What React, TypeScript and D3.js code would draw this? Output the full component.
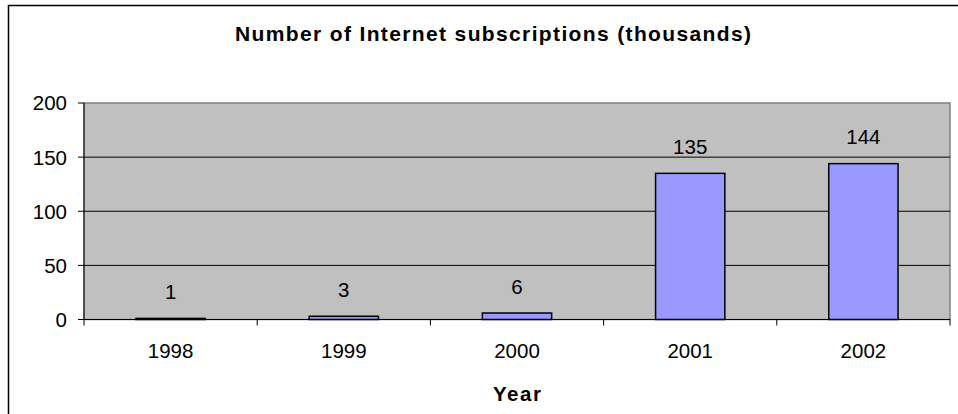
import React from "react";
import * as d3 from "d3";

const categories = ["1998", "1999", "2000", "2001", "2002"];
const values = [1, 3, 6, 135, 144];
const yTicks = [0, 50, 100, 150, 200];
const title = "Number of Internet subscriptions (thousands)";
const xTitle = "Year";

const W = 958;
const H = 414;
const plot = { left: 84, right: 950, top: 103, bottom: 319.5 };
const FONT = "'Liberation Sans', Arial, sans-serif";

export default function App() {
  const x = d3
    .scaleBand<string>()
    .domain(categories)
    .range([plot.left, plot.right])
    .paddingInner(0.6)
    .paddingOuter(0.3);
  const band = d3.scaleBand<string>().domain(categories).range([plot.left, plot.right]);
  const y = d3.scaleLinear().domain([0, 200]).range([plot.bottom, plot.top]);
  const boundaries = [...categories.map((c) => band(c)!), plot.right];

  return (
    <svg
      width={W}
      height={H}
      style={{ position: "absolute", left: 0, top: 0, background: "#fff" }}
      fontFamily={FONT}
    >
      {/* outer chart border */}
      <rect x={8.5} y={5.5} width={W + 10} height={H + 10} fill="#fff" stroke="#000" strokeWidth={1.5} />
      <text
        x={493}
        y={41}
        textAnchor="middle"
        fontWeight="bold"
        fontSize={21}
        textLength={516}
        lengthAdjust="spacing"
      >
        {title}
      </text>
      {/* plot area */}
      <rect
        x={plot.left}
        y={plot.top}
        width={plot.right - plot.left}
        height={plot.bottom - plot.top}
        fill="#C0C0C0"
        stroke="#808080"
        strokeWidth={1.5}
      />
      {yTicks
        .filter((t) => t > 0 && t < 200)
        .map((t) => (
          <line key={t} x1={plot.left} x2={plot.right} y1={y(t)} y2={y(t)} stroke="#000" strokeWidth={1} />
        ))}
      {/* bars */}
      {values.map((v, i) => (
        <rect
          key={categories[i]}
          x={x(categories[i])}
          y={y(v)}
          width={x.bandwidth()}
          height={plot.bottom - y(v)}
          fill="#9999FF"
          stroke="#000"
          strokeWidth={1.5}
        />
      ))}
      {values.map((v, i) => (
        <text
          key={"l" + i}
          x={x(categories[i])! + x.bandwidth() / 2}
          y={y(v) - 19.5}
          textAnchor="middle"
          fontSize={20.5}
        >
          {v}
        </text>
      ))}
      {/* y axis */}
      <line x1={plot.left} x2={plot.left} y1={plot.top} y2={plot.bottom} stroke="#000" strokeWidth={1} />
      {yTicks.map((t) => (
        <g key={t}>
          <line x1={plot.left - 6} x2={plot.left} y1={y(t)} y2={y(t)} stroke="#000" />
          <text x={67} y={y(t)} dy="0.36em" textAnchor="end" fontSize={20.5}>
            {t}
          </text>
        </g>
      ))}
      {/* x axis */}
      <line x1={plot.left} x2={plot.right} y1={plot.bottom} y2={plot.bottom} stroke="#000" strokeWidth={1.2} />
      {boundaries.map((b, i) => (
        <line key={i} x1={b} x2={b} y1={plot.bottom} y2={plot.bottom + 6} stroke="#000" />
      ))}
      {categories.map((c) => (
        <text key={c} x={band(c)! + band.bandwidth() / 2} y={358} textAnchor="middle" fontSize={20.5}>
          {c}
        </text>
      ))}
      <text
        x={(plot.left + plot.right) / 2}
        y={401}
        textAnchor="middle"
        fontWeight="bold"
        fontSize={20.5}
        textLength={48}
        lengthAdjust="spacing"
      >
        {xTitle}
      </text>
    </svg>
  );
}
